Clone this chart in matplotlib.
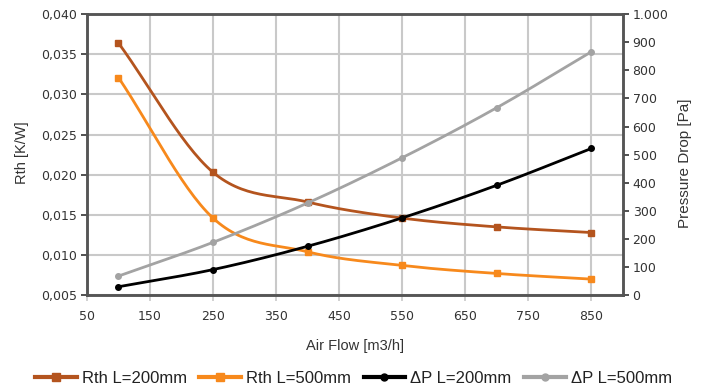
import numpy as np
import matplotlib
matplotlib.use("Agg")
import matplotlib.pyplot as plt
from matplotlib.ticker import FuncFormatter

airflow = [100, 250, 400, 550, 700, 850]
rth_200 = [0.0364, 0.0203, 0.0166, 0.0146, 0.0135, 0.0128]
rth_500 = [0.0321, 0.0146, 0.0104, 0.0087, 0.0077, 0.0070]
dp_200 = [30, 91, 174, 275, 391, 522]
dp_500 = [68, 188, 328, 489, 667, 866]

x_ticks = [50, 150, 250, 350, 450, 550, 650, 750, 850]
left_ticks = [0.005, 0.010, 0.015, 0.020, 0.025, 0.030, 0.035, 0.040]
right_ticks = [0, 100, 200, 300, 400, 500, 600, 700, 800, 900, 1000]

labels = ["Rth L=200mm", "Rth L=500mm", "ΔP L=200mm", "ΔP L=500mm"]
colors = ["#B4541E", "#F7891C", "#000000", "#A3A3A3"]


def smooth(xs, ys, n=30):
    # Catmull-Rom style smoothing for drawing (like Excel smoothed lines)
    xs = np.asarray(xs, float)
    ys = np.asarray(ys, float)
    px = np.concatenate([[2 * xs[0] - xs[1]], xs, [2 * xs[-1] - xs[-2]]])
    py = np.concatenate([[2 * ys[0] - ys[1]], ys, [2 * ys[-1] - ys[-2]]])
    ox, oy = [], []
    t = np.linspace(0, 1, n, endpoint=False)
    for i in range(1, len(px) - 2):
        p0x, p1x, p2x, p3x = px[i - 1:i + 3]
        p0y, p1y, p2y, p3y = py[i - 1:i + 3]
        bx = [p1x, p1x + (p2x - p0x) / 6, p2x - (p3x - p1x) / 6, p2x]
        by = [p1y, p1y + (p2y - p0y) / 6, p2y - (p3y - p1y) / 6, p2y]
        for arr, b in ((ox, bx), (oy, by)):
            arr.extend((1 - t) ** 3 * b[0] + 3 * (1 - t) ** 2 * t * b[1]
                       + 3 * (1 - t) * t ** 2 * b[2] + t ** 3 * b[3])
    ox.append(xs[-1])
    oy.append(ys[-1])
    return np.array(ox), np.array(oy)


plt.rcParams['font.family'] = ['Liberation Sans', 'DejaVu Sans']
fig = plt.figure(figsize=(7.07, 3.92), dpi=100)
ax = fig.add_axes([0.123, 0.247, 0.758, 0.717])
ax2 = ax.twinx()

spine_c = "#555555"
grid_c = "#C9C9C9"
text_c = "#333333"

ax.set_xlim(50, 900)
ax.set_ylim(0.005, 0.040)
ax2.set_ylim(0, 1000)
ax.set_xticks(x_ticks)
ax.set_yticks(left_ticks)
ax2.set_yticks(right_ticks)
ax.grid(True, color=grid_c, linewidth=1.5)
ax.set_axisbelow(True)

ax.yaxis.set_major_formatter(FuncFormatter(lambda v, p: f"{v:.3f}".replace(".", ",")))
ax2.yaxis.set_major_formatter(FuncFormatter(lambda v, p: f"{int(round(v)):,}".replace(",", ".")))

handles = []
for axis, ys, c, lab, mk, ms in [
    (ax, rth_200, colors[0], labels[0], 's', 5),
    (ax, rth_500, colors[1], labels[1], 's', 5),
    (ax2, dp_200, colors[2], labels[2], 'o', 4),
    (ax2, dp_500, colors[3], labels[3], 'o', 4),
]:
    sx, sy = smooth(airflow, ys)
    axis.plot(sx, sy, color=c, linewidth=2.0, zorder=3)
    axis.plot(airflow, ys, linestyle='none', marker=mk, markersize=ms,
              color=c, zorder=4)
    h, = ax.plot([], [], color=c, linewidth=3.0, marker=mk, markersize=ms + 1)
    handles.append(h)

for a in (ax, ax2):
    for s in a.spines.values():
        s.set_color(spine_c)
        s.set_linewidth(1.8)
    a.tick_params(colors=text_c, labelsize=9, length=4, width=1.2)
    a.tick_params(axis='both', labelcolor=text_c)
    for lab in a.get_xticklabels() + a.get_yticklabels():
        lab.set_family('DejaVu Sans')
ax.tick_params(axis='x', color=grid_c, pad=7)
ax.tick_params(axis='y', pad=3)
ax2.tick_params(axis='y', pad=3)

ax.set_ylabel("Rth [K/W]", fontsize=10.5, color=text_c, va='center', ha='center')
ax.yaxis.set_label_coords(-0.121, 0.507)
ax2.set_ylabel("Pressure Drop [Pa]", fontsize=11, color=text_c, va='center', ha='center')
ax2.yaxis.set_label_coords(1.116, 0.47)
ax.set_xlabel("Air Flow [m3/h]", fontsize=10.5, color=text_c, va='center', ha='center')
ax.xaxis.set_label_coords(0.5, -0.1815)

fig.legend(handles, labels, loc='center', bbox_to_anchor=(0.5, 0.035), ncol=4,
           frameon=False, fontsize=12, handlelength=2.5, handletextpad=0.3,
           columnspacing=0.75, labelcolor="#222222")

fig.savefig("out.png", dpi=100)
